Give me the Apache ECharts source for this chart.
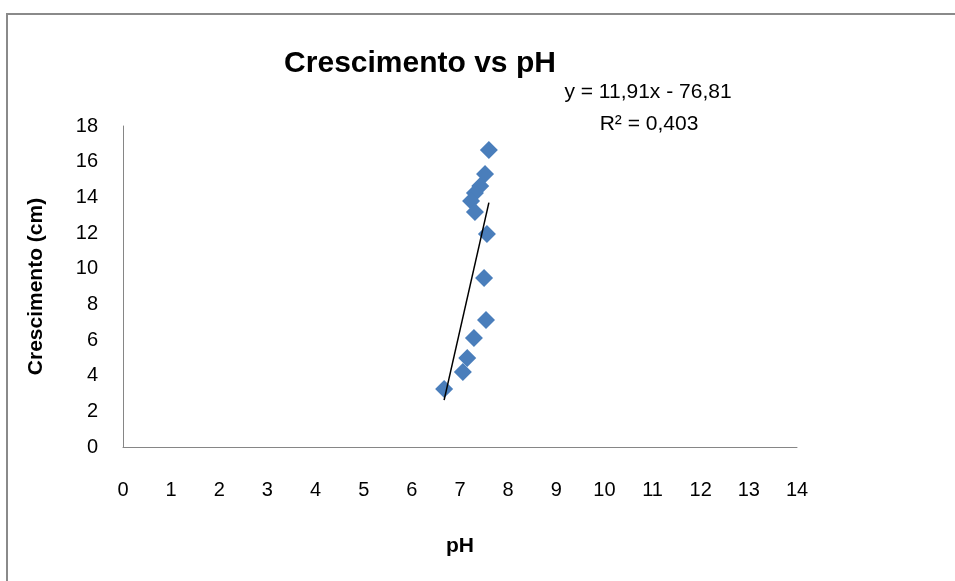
<!DOCTYPE html>
<html>
<head>
<meta charset="utf-8">
<script src="https://cdn.jsdelivr.net/npm/echarts@6/dist/echarts.min.js"></script>
<style>
  html, body { margin: 0; padding: 0; background: #fff; }
  #chart { width: 955px; height: 581px; }
</style>
</head>
<body>
<div id="chart"></div>
<script>
// pH vs growth readings (cm)
const phValues = [7.60, 7.52, 7.42, 7.31, 7.23, 7.31, 7.56, 7.50, 7.54, 7.29, 7.15, 7.06, 6.67];
const growthValues = [16.66, 15.31, 14.64, 14.25, 13.80, 13.18, 11.95, 9.48, 7.12, 6.11, 4.99, 4.21, 3.25];

// trendline as shown on the chart
const trendSlope = 11.91;
const trendIntercept = -76.81;
const trendLabel = "y = 11,91x - 76,81";
const r2Label = "R² = 0,403";

const xTicks = [0, 1, 2, 3, 4, 5, 6, 7, 8, 9, 10, 11, 12, 13, 14];
const yTicks = [0, 2, 4, 6, 8, 10, 12, 14, 16, 18];

const FONT = "'Liberation Sans', 'DejaVu Sans', sans-serif";

const points = phValues.map((x, i) => [x, growthValues[i]]);
const xMin = Math.min(...phValues);
const xMax = Math.max(...phValues);
const trendPoints = [
  [xMin, trendSlope * xMin + trendIntercept],
  [xMax, trendSlope * xMax + trendIntercept],
];

const chart = echarts.init(document.getElementById("chart"));

chart.setOption({
  backgroundColor: "#fff",
  animation: false,
  title: {
    text: "Crescimento vs pH",
    left: 415,
    top: 44,
    textAlign: "center",
    textStyle: { fontFamily: FONT, fontSize: 30, fontWeight: "bold", color: "#000" },
  },
  graphic: [
    {
      type: "rect",
      shape: { x: 7, y: 14, width: 1000, height: 620 },
      style: { fill: "none", stroke: "#8a8a8a", lineWidth: 2 },
      silent: true,
    },
    {
      type: "text",
      x: 648,
      y: 92,
      style: {
        text: trendLabel,
        font: "21px " + FONT,
        fill: "#000",
        align: "center",
        verticalAlign: "middle",
      },
    },
    {
      type: "text",
      x: 649,
      y: 124,
      style: {
        text: r2Label,
        font: "21px " + FONT,
        fill: "#000",
        align: "center",
        verticalAlign: "middle",
      },
    },
  ],
  grid: { left: 123, right: 158, top: 126, bottom: 134 },
  xAxis: {
    type: "value",
    min: xTicks[0],
    max: xTicks[xTicks.length - 1],
    interval: 1,
    name: "pH",
    nameLocation: "middle",
    nameGap: 89,
    nameTextStyle: { fontFamily: FONT, fontSize: 21, fontWeight: "bold", color: "#000" },
    axisLine: { lineStyle: { color: "#868686", width: 1 } },
    axisTick: { show: false },
    splitLine: { show: false },
    axisLabel: { fontFamily: FONT, fontSize: 20, color: "#000", margin: 33 },
  },
  yAxis: {
    type: "value",
    min: yTicks[0],
    max: yTicks[yTicks.length - 1],
    interval: 2,
    name: "Crescimento (cm)",
    nameLocation: "middle",
    nameGap: 76,
    nameRotate: 90,
    nameTextStyle: { fontFamily: FONT, fontSize: 21, fontWeight: "bold", color: "#000" },
    axisLine: { show: true, lineStyle: { color: "#868686", width: 1 } },
    axisTick: { show: false },
    splitLine: { show: false },
    axisLabel: { fontFamily: FONT, fontSize: 20, color: "#000", margin: 25 },
  },
  series: [
    {
      type: "scatter",
      data: points,
      symbol: "diamond",
      symbolSize: 18,
      itemStyle: { color: "#4a7ebb", opacity: 1 },
    },
    {
      type: "line",
      data: trendPoints,
      showSymbol: false,
      symbol: "none",
      lineStyle: { color: "#000", width: 1.5 },
      z: 3,
    },
  ],
});
</script>
</body>
</html>
